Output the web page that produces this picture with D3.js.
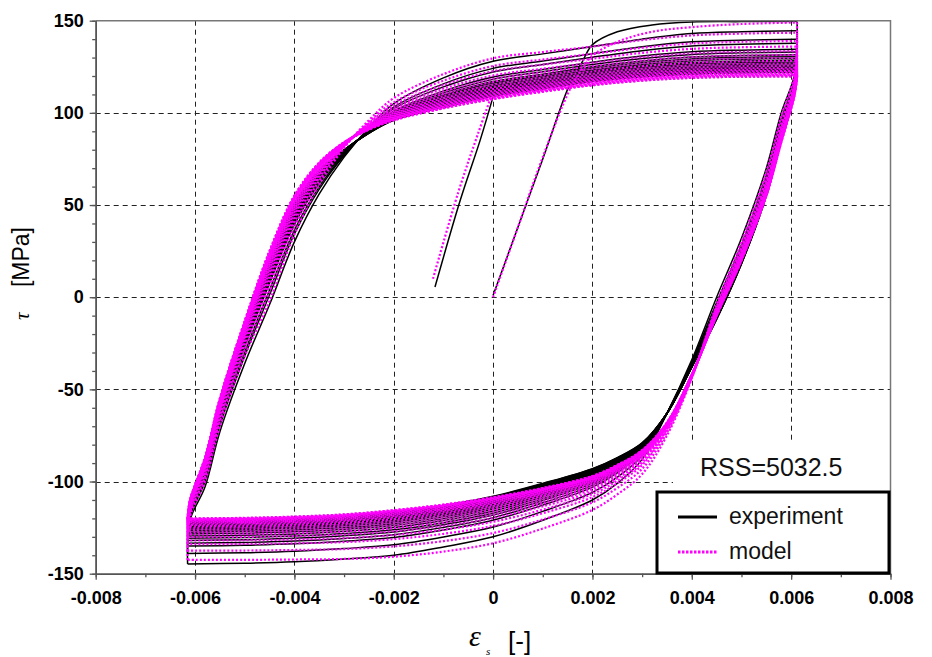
<!DOCTYPE html>
<html>
<head>
<meta charset="utf-8">
<script src="https://cdn.jsdelivr.net/npm/d3@7"></script>
<style>
  body { margin: 0; background: #fff; }
  text { font-family: "Liberation Sans", Arial, sans-serif; }
</style>
</head>
<body>
<svg width="932" height="657"></svg>
<script>
// strain grids for the two loop branches (loading left->right, unloading right->left)
var upStrain   = [-0.00615, -0.0061, -0.0058, -0.0055, -0.0050, -0.0045, -0.0040, -0.0035, -0.0030, -0.0025, -0.0020, -0.0010, 0.0000, 0.0010, 0.0020, 0.0030, 0.0040, 0.0050, 0.00612];
var downStrain = [0.00612, 0.00607, 0.0058, 0.0055, 0.0050, 0.0045, 0.0040, 0.0035, 0.0030, 0.0025, 0.0020, 0.0010, 0.0000, -0.0010, -0.0020, -0.0030, -0.0040, -0.0050, -0.00615];

// experiment: saturated (inner) and largest (outer) branches, MPa
var expUpInner   = [-121, -112, -89, -57, -16, 22, 51, 69, 80, 89, 96, 103, 109, 113, 117, 119.5, 121, 121.7, 122];
var expUpOuter   = [-144.7, -121, -103, -73, -36, -4, 30, 56, 76, 92, 105, 119, 128, 132, 136, 140, 143, 144, 144.6];
var expDownInner = [122, 112, 86, 55, 18, -12, -38, -63, -79, -87, -93, -101, -108, -113, -116.4, -118.5, -119.8, -120.5, -121];
var expDownOuter = [149.6, 121, 100, 70, 32, 0, -34, -63, -88, -101, -110, -121, -130, -135.5, -140, -142, -143.5, -144.3, -144.7];

// model branches
var modelUpInner   = [-120, -110, -87, -55, -13, 25, 55, 73, 84, 91, 96, 102.5, 107.5, 111.5, 115, 117.5, 119, 119.6, 119.8];
var modelUpOuter   = [-142.5, -119, -100, -70, -32, -2, 34, 61, 81, 96, 108, 121, 129.6, 133, 136, 139.5, 142, 143, 143.5];
var modelDownInner = [119.8, 110, 84, 55, 20, -10, -42, -68, -83, -91, -97, -103.5, -108.5, -112.5, -115.5, -117.8, -119, -119.7, -120];
var modelDownOuter = [149, 121, 98, 68, 30, -4, -44, -75, -96, -107, -115.4, -125.5, -133.5, -138, -140.8, -142, -142.3, -142.5, -142.5];

// reversal stresses per cycle
var expTops       = [144.6, 140.0, 137.7, 134.5, 133, 131.5, 130.5, 129.5, 128.5, 127.6, 126.8, 126, 125.3, 124.7, 124.1, 123.6, 123.1, 122.6, 122.2, 122];
var expBottoms    = [-144.7, -139, -135, -133.5, -132, -130.8, -129.6, -128.5, -127.5, -126.6, -125.8, -125, -124.3, -123.6, -123, -122.5, -122, -121.6, -121.3, -121];
var modelTops     = [143.5, 139, 136, 133.5, 131.5, 129.8, 128.2, 126.8, 125.6, 124.5, 123.6, 122.8, 122.1, 121.5, 121, 120.6, 120.3, 120, 119.8, 119.8];
var modelBottoms  = [-142.5, -137.5, -134, -132, -130.2, -128.7, -127.4, -126.2, -125.2, -124.3, -123.5, -122.8, -122.2, -121.7, -121.2, -120.8, -120.5, -120.3, -120.1, -120];

// first loading from zero
var firstStrain      = [0, 0.0005, 0.001, 0.00155, 0.0018, 0.002, 0.0025, 0.0032, 0.004, 0.005, 0.00612];
var expFirstStress   = [1, 38, 75, 116, 128, 137, 144, 147.7, 149.3, 149.5, 149.6];
var modelFirstStress = [0, 38, 76, 113, 124, 131, 138.5, 144, 146.5, 148.2, 149];

// short elastic segment near zero
var expExtraStrain   = [-0.00117, -0.00066, -0.00026, 0.0];
var expExtraStress   = [5.5, 52.7, 85.2, 108.8];
var modelExtraStrain = [-0.00121, -0.0007, -0.0003, -0.00003];
var modelExtraStress = [10, 57, 89, 109.5];

var xTicks = [-0.008, -0.006, -0.004, -0.002, 0, 0.002, 0.004, 0.006, 0.008];
var yTicks = [-150, -100, -50, 0, 50, 100, 150];

var svg = d3.select("svg");
var x = d3.scaleLinear().domain([-0.008, 0.008]).range([95.7, 890.5]);
var y = d3.scaleLinear().domain([-150, 150]).range([573.7, 20.7]);

svg.append("rect").attr("width", 932).attr("height", 657).attr("fill", "#fff");

// grid
var grid = svg.append("g").attr("stroke", "#222").attr("stroke-width", 1).attr("stroke-dasharray", "5,4");
grid.selectAll("line.v").data(xTicks.slice(1, -1)).enter().append("line")
    .attr("x1", function(d){ return Math.round(x(d)) + 0.5; })
    .attr("x2", function(d){ return Math.round(x(d)) + 0.5; })
    .attr("y1", y(150)).attr("y2", y(-150));
grid.selectAll("line.h").data(yTicks.slice(1, -1)).enter().append("line")
    .attr("y1", function(d){ return Math.round(y(d)) + 0.5; })
    .attr("y2", function(d){ return Math.round(y(d)) + 0.5; })
    .attr("x1", x(-0.008)).attr("x2", x(0.008));

// white box behind the RSS label
svg.append("rect").attr("x", 673).attr("y", 443).attr("width", 217).attr("height", 49).attr("fill", "#fff");

// build one half cycle between inner and outer branch
function halfCycle(strain, inner, outer, start, end){
    var n = inner.length - 1;
    var w = (end - inner[n]) / (outer[n] - inner[n]);
    return strain.map(function(s, k){
        var t = inner[k] + w * (outer[k] - inner[k]);
        if (k === 0) t = start;
        if (k === n) t = end;
        return [s, t];
    });
}

function buildLoop(firstStress, tops, bottoms, upIn, upOut, downIn, downOut){
    var paths = [];
    paths.push(firstStrain.map(function(s, i){ return [s, firstStress[i]]; }));
    var prev = firstStress[firstStress.length - 1];
    for (var i = 0; i < bottoms.length; i++){
        paths.push(halfCycle(downStrain, downIn, downOut, prev, bottoms[i]));
        if (i < tops.length){
            paths.push(halfCycle(upStrain, upIn, upOut, bottoms[i], tops[i]));
            prev = tops[i];
        }
    }
    return paths;
}

var line = d3.line()
    .x(function(d){ return x(d[0]); })
    .y(function(d){ return y(d[1]); })
    .curve(d3.curveCatmullRom.alpha(0.5));

var expPaths = buildLoop(expFirstStress, expTops, expBottoms, expUpInner, expUpOuter, expDownInner, expDownOuter);
expPaths.push(expExtraStrain.map(function(s, i){ return [s, expExtraStress[i]]; }));
var modelPaths = buildLoop(modelFirstStress, modelTops, modelBottoms, modelUpInner, modelUpOuter, modelDownInner, modelDownOuter);
modelPaths.push(modelExtraStrain.map(function(s, i){ return [s, modelExtraStress[i]]; }));

svg.append("g").selectAll("path").data(expPaths).enter().append("path")
    .attr("d", line).attr("fill", "none").attr("stroke", "#000").attr("stroke-width", 1.5);

svg.append("g").selectAll("path").data(modelPaths).enter().append("path")
    .attr("d", line).attr("fill", "none").attr("stroke", "#ff00ff").attr("stroke-width", 2.2)
    .attr("stroke-dasharray", "2,2");

// frame top/right
svg.append("path")
    .attr("d", "M" + x(-0.008) + "," + y(150) + "H" + x(0.008) + "V" + y(-150))
    .attr("fill", "none").attr("stroke", "#777").attr("stroke-width", 1.5);

// axes
function dashFmt(d){ return d === 0 ? "0" : String(d.toFixed(3)).replace("\u2212", "-"); }

var minorX = d3.range(-8, 9).map(function(v){ return v / 1000; });
var minorY = d3.range(-15, 16).map(function(v){ return v * 10; });

var xMinor = svg.append("g").attr("transform", "translate(0," + y(-150) + ")")
    .call(d3.axisBottom(x).tickValues(minorX).tickSize(3.5).tickSizeOuter(0).tickFormat(""));
var yMinor = svg.append("g").attr("transform", "translate(" + x(-0.008) + ",0)")
    .call(d3.axisLeft(y).tickValues(minorY).tickSize(3.5).tickSizeOuter(0).tickFormat(""));

var xAxis = svg.append("g").attr("transform", "translate(0," + y(-150) + ")")
    .call(d3.axisBottom(x).tickValues(xTicks).tickSize(6).tickSizeOuter(0).tickPadding(12).tickFormat(dashFmt));
var yAxis = svg.append("g").attr("transform", "translate(" + x(-0.008) + ",0)")
    .call(d3.axisLeft(y).tickValues(yTicks).tickSize(6).tickSizeOuter(0).tickPadding(6).tickFormat(function(d){ return String(d); }));

[xMinor, yMinor, xAxis, yAxis].forEach(function(g){
    g.selectAll("path.domain").attr("stroke", "#555").attr("stroke-width", 1.5);
    g.selectAll(".tick line").attr("stroke", "#555").attr("stroke-width", 1.3);
    g.selectAll(".tick text").attr("fill", "#000")
        .style("font-family", "'Liberation Sans', Arial, sans-serif")
        .style("font-size", "18px").style("font-weight", "bold");
});

// axis titles
svg.append("text").attr("transform", "translate(29,320) rotate(-90)")
    .style("font-family", "'Liberation Serif', 'DejaVu Serif', serif").style("font-style", "italic")
    .style("font-size", "21px").text("\u03c4");
svg.append("text").attr("transform", "translate(29,227) rotate(-90)")
    .attr("text-anchor", "end").style("font-size", "23px").text("[MPa]");

svg.append("text").attr("x", 469).attr("y", 646)
    .style("font-family", "'Liberation Serif', 'DejaVu Serif', serif").style("font-style", "italic")
    .style("font-size", "30px").text("\u03b5");
svg.append("text").attr("x", 486).attr("y", 655)
    .style("font-family", "'Liberation Serif', 'DejaVu Serif', serif").style("font-style", "italic")
    .style("font-size", "11px").text("s");
svg.append("text").attr("x", 508).attr("y", 650)
    .style("font-size", "26px").text("[-]");

// RSS label
svg.append("text").attr("x", 700).attr("y", 476).style("font-size", "25px").attr("fill", "#111").text("RSS=5032.5");

// legend
var legend = svg.append("g");
legend.append("rect").attr("x", 657).attr("y", 492).attr("width", 232).attr("height", 81)
    .attr("fill", "#fff").attr("stroke", "#000").attr("stroke-width", 3);
legend.append("line").attr("x1", 678).attr("x2", 717).attr("y1", 517).attr("y2", 517)
    .attr("stroke", "#000").attr("stroke-width", 3);
legend.append("line").attr("x1", 678).attr("x2", 717).attr("y1", 552).attr("y2", 552)
    .attr("stroke", "#ff00ff").attr("stroke-width", 3).attr("stroke-dasharray", "2.5,1.5");
legend.append("text").attr("x", 729).attr("y", 524).style("font-size", "23px").attr("fill", "#111").text("experiment");
legend.append("text").attr("x", 729).attr("y", 559).style("font-size", "23px").attr("fill", "#111").text("model");
</script>
</body>
</html>
